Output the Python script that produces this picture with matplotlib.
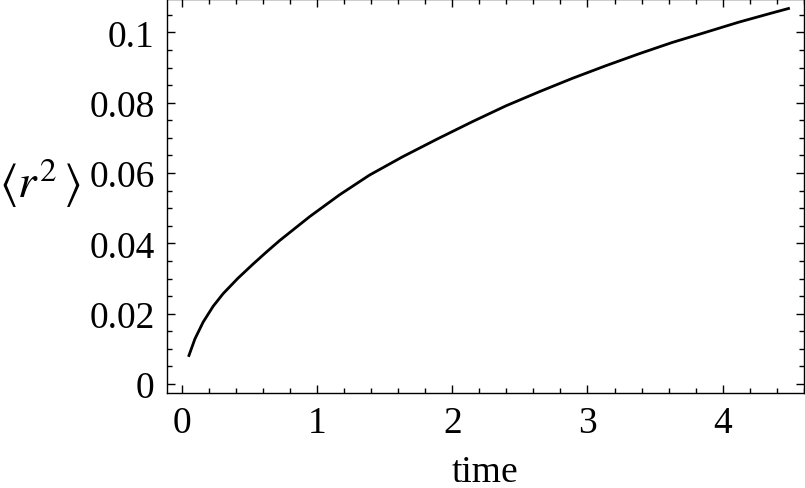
import numpy as np
import matplotlib
matplotlib.use("Agg")
import matplotlib.pyplot as plt
from matplotlib.ticker import MultipleLocator

# values
time = [0.052, 0.096, 0.157, 0.231, 0.305, 0.415, 0.526, 0.630, 0.723,
        0.945, 1.166, 1.387, 1.631, 1.89, 2.148, 2.396, 2.642, 2.886,
        3.134, 3.380, 3.624, 3.872, 4.118, 4.362, 4.487]
r2 = [0.0081, 0.0128, 0.0176, 0.0221, 0.0257, 0.0301, 0.0341, 0.0377,
      0.0408, 0.0476, 0.0538, 0.0594, 0.0646, 0.0697, 0.0746, 0.0791,
      0.0831, 0.0869, 0.0905, 0.0939, 0.0971, 0.1000, 0.1029, 0.1055,
      0.1068]

plt.rcParams['font.family'] = ['Liberation Serif', 'DejaVu Serif']
plt.rcParams['mathtext.fontset'] = 'stix'

fig = plt.figure(figsize=(8.05, 4.89), dpi=100)
ax = fig.add_axes([0.2075, 0.194, 0.791, 0.806])
ax.plot(time, r2, color='black', lw=2)

ax.set_xlim(-0.11, 4.6)
ax.set_ylim(-0.0026, 0.1095)
ax.xaxis.set_major_locator(MultipleLocator(1))
ax.xaxis.set_minor_locator(MultipleLocator(0.2))
ax.yaxis.set_minor_locator(MultipleLocator(0.005))
ax.set_yticks([0, 0.02, 0.04, 0.06, 0.08, 0.1])
ax.set_yticklabels(['0', '0.02', '0.04', '0.06', '0.08', '0.1'])

ax.tick_params(which='both', direction='in', top=True, right=True,
               labelsize=27, width=1)
ax.tick_params(which='major', length=6, pad=9)
ax.tick_params(which='minor', length=3.5)
for s in ax.spines.values():
    s.set_linewidth(1)

ax.set_xlabel('time', fontsize=27, labelpad=10)
ax.set_ylabel(r'$\langle r^{2}\,\rangle$', fontsize=34, rotation=0,
              va='center', ha='center')
ax.yaxis.set_label_coords(-0.2, 0.535)

fig.savefig('out.png', dpi=100)
